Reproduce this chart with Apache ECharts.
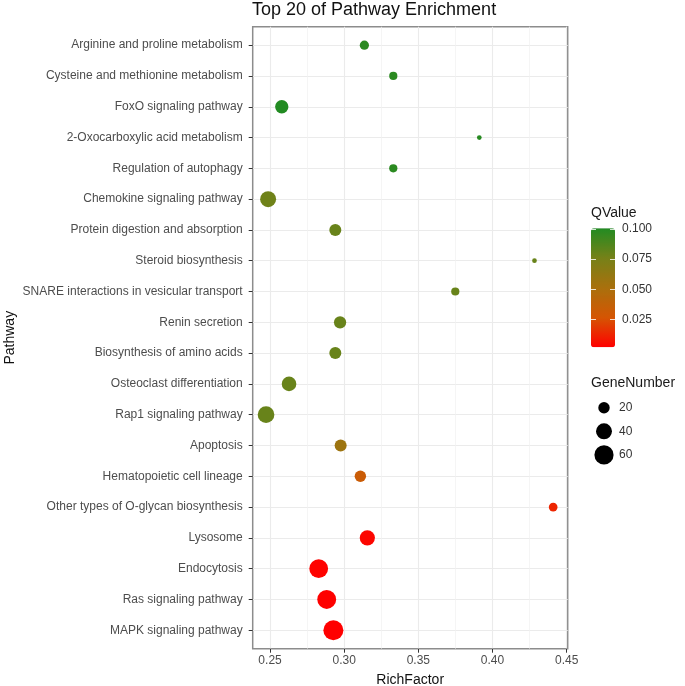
<!DOCTYPE html>
<html><head><meta charset="utf-8">
<script src="https://cdn.jsdelivr.net/npm/echarts@6/dist/echarts.min.js"></script>
<style>html,body{margin:0;padding:0;background:#fff}#c{width:685px;height:686px}</style>
</head><body><div id="c"></div>
<script>
const pathways = [
  'Arginine and proline metabolism',
  'Cysteine and methionine metabolism',
  'FoxO signaling pathway',
  '2-Oxocarboxylic acid metabolism',
  'Regulation of autophagy',
  'Chemokine signaling pathway',
  'Protein digestion and absorption',
  'Steroid biosynthesis',
  'SNARE interactions in vesicular transport',
  'Renin secretion',
  'Biosynthesis of amino acids',
  'Osteoclast differentiation',
  'Rap1 signaling pathway',
  'Apoptosis',
  'Hematopoietic cell lineage',
  'Other types of O-glycan biosynthesis',
  'Lysosome',
  'Endocytosis',
  'Ras signaling pathway',
  'MAPK signaling pathway'
];
const richFactor = [0.3136,0.3331,0.2579,0.3911,0.3331,0.2487,0.2940,0.4283,0.3749,0.2972,0.2940,0.2628,0.2473,0.2976,0.3109,0.4409,0.3156,0.2828,0.2882,0.2927];
const qValue = [0.098,0.098,0.1005,0.099,0.098,0.078,0.080,0.080,0.080,0.080,0.080,0.080,0.080,0.057,0.033,0.013,0.004,0.003,0.0025,0.0022];
const geneNumber = [14,12,27,9,12,40,22,9,12,23,22,33,44,22,20,13,36,57,58,66];
const xTicks = [0.25,0.30,0.35,0.40,0.45];
const xMinorTicks = [0.275,0.325,0.375,0.425];
const qTicks = [0.025,0.050,0.075,0.100];
const sizeLegend = [20,40,60];
const qColors = ['#FF0000','#D55503','#A9700D','#768118','#228B22'];

const FONT = "'Liberation Sans', Arial, sans-serif";
const gMin = Math.min(...geneNumber), gMax = Math.max(...geneNumber);
function sizeFn(n){ return 4.7 + 15.3*Math.sqrt(Math.max(0,(n-gMin))/(gMax-gMin)); }
const qMin = Math.min(...qValue), qMax = Math.max(...qValue);
const yIdx = pathways.map((_, i) => i);
const data = pathways.map((p, i) => [richFactor[i], i, qValue[i], geneNumber[i], p]);

const P = {left: 252.7, right: 567.7, top: 26.7, bottom: 648.7};
const CB = {left: 591, top: 228.3, width: 24, height: 119};

const graphics = [
  {type:'text', left: 591, top: 206, style:{text:'QValue', fontSize:14, fill:'#1a1a1a', fontFamily:FONT}},
  {type:'text', left: 591, top: 376, style:{text:'GeneNumber', fontSize:14, fill:'#1a1a1a', fontFamily:FONT}}
];
sizeLegend.forEach((v, i) => {
  const cy = 407.7 + 23.6*i;
  graphics.push({type:'circle', shape:{cx:604, cy:cy, r:sizeFn(v)/2}, style:{fill:'#000'}});
  graphics.push({type:'text', x:619, y:cy, style:{text:String(v), fontSize:12, fill:'#333', fontFamily:FONT, verticalAlign:'middle'}});
});

const chart = echarts.init(document.getElementById('c'), null, {renderer:'canvas'});
chart.setOption({
  backgroundColor:'#fff',
  animation:false,
  textStyle:{fontFamily:FONT},
  title:{text:'Top 20 of Pathway Enrichment', left:252, top:1, padding:0,
    textStyle:{fontSize:18, fontWeight:'normal', color:'#111', fontFamily:FONT}},
  grid:[
    {left:P.left, top:P.top, width:P.right-P.left, height:P.bottom-P.top, show:true,
     outerBoundsMode:'none', containLabel:false,
     borderColor:'#8c8c8c', borderWidth:1.5, backgroundColor:'#fff'},
    {left:CB.left, top:CB.top, width:CB.width, height:CB.height, show:false,
     outerBoundsMode:'none', containLabel:false}
  ],
  xAxis:[
    {type:'value', gridIndex:0, min:0.2383, max:0.4507, position:'bottom',
     name:'RichFactor', nameLocation:'middle', nameGap:24,
     nameTextStyle:{fontSize:14, color:'#111', fontFamily:FONT},
     axisLine:{show:false, onZero:false},
     axisTick:{show:true, length:4, lineStyle:{color:'#333'}, customValues:xTicks},
     axisLabel:{customValues:xTicks, margin:6, fontSize:12, color:'#4D4D4D', fontFamily:FONT,
       formatter: v => v.toFixed(2)},
     splitLine:{show:true, lineStyle:{color:'#EBEBEB', width:1.1}}},
    {type:'value', gridIndex:0, min:0.2383, max:0.4507, position:'top',
     axisLine:{show:false, onZero:false}, axisLabel:{show:false},
     axisTick:{show:false, customValues:xMinorTicks},
     splitLine:{show:true, lineStyle:{color:'#F0F0F0', width:0.7}}},
    {type:'value', gridIndex:1, show:false, min:0, max:1, axisLine:{onZero:false}}
  ],
  yAxis:[
    {type:'value', gridIndex:0, min:-0.6, max:19.6, inverse:true,
     name:'Pathway', nameLocation:'middle', nameGap:236, nameRotate:90,
     nameTextStyle:{fontSize:14, color:'#111', fontFamily:FONT},
     axisLine:{show:false, onZero:false},
     axisTick:{show:true, length:4, lineStyle:{color:'#333'}, customValues:yIdx},
     axisLabel:{customValues:yIdx, margin:10, fontSize:12, color:'#4D4D4D', fontFamily:FONT,
       formatter: v => pathways[Math.round(v)] || ''},
     splitLine:{show:true, lineStyle:{color:'#EBEBEB', width:1.1}}},
    {type:'value', gridIndex:1, position:'right', min:qMin, max:qMax, z:10,
     axisLine:{show:false, onZero:false},
     axisTick:{show:true, inside:true, length:5, lineStyle:{color:'rgba(255,255,255,0.8)', width:1}, customValues:qTicks},
     axisLabel:{customValues:qTicks, margin:7, fontSize:12, color:'#333', fontFamily:FONT,
       formatter: v => v.toFixed(3)},
     splitLine:{show:false}},
    {type:'value', gridIndex:1, position:'left', min:qMin, max:qMax, z:10,
     axisLine:{show:false, onZero:false},
     axisTick:{show:true, inside:true, length:5, lineStyle:{color:'rgba(255,255,255,0.8)', width:1}, customValues:qTicks},
     axisLabel:{show:false},
     splitLine:{show:false}}
  ],
  visualMap:{
    type:'continuous', min:qMin, max:qMax, dimension:2, seriesIndex:0,
    inRange:{color:qColors}, left:CB.left, top:CB.top, itemWidth:CB.width, itemHeight:CB.height,
    padding:0, calculable:false, text:null, realtime:false, hoverLink:false, showLabel:false
  },
  series:[{
    type:'scatter', xAxisIndex:0, yAxisIndex:0, data:data,
    symbol:'circle', symbolSize: v => sizeFn(v[3]),
    itemStyle:{opacity:1}, z:5
  }],
  graphic: graphics
});
</script></body></html>
